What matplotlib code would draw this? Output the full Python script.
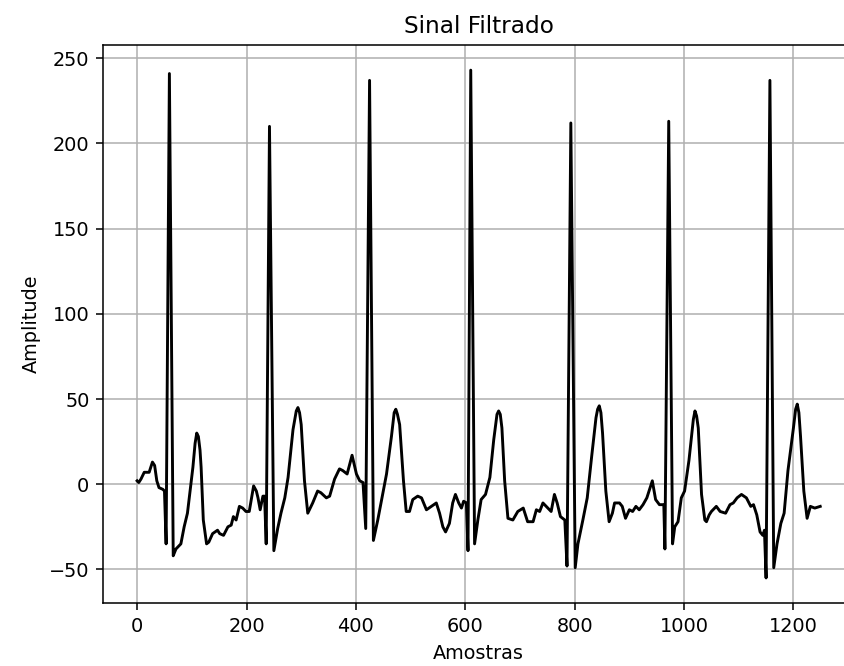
import numpy as np
import matplotlib.pyplot as plt

# sample index / amplitude
amostras = [0, 3, 7, 13, 22, 28, 32, 36, 40, 47, 50, 53, 59, 66, 71, 80, 86, 92, 102, 106, 109,
            112, 115, 117, 121, 127, 131, 138, 147, 151, 158, 166, 172, 176, 181, 187, 193, 199,
            205, 213, 218, 221, 225, 230, 233, 236, 242, 250, 257, 263, 270, 276, 285, 291, 294,
            297, 300, 306, 312, 321, 330, 336, 346, 352, 361, 370, 376, 384, 393, 401, 407, 413,
            418, 425, 432, 440, 449, 456, 465, 470, 473, 476, 480, 487, 492, 498, 504, 513, 520, 529,
            538, 547, 553, 559, 564, 571, 577, 582, 588, 593, 597, 602, 605, 610, 617, 623,
            629, 637, 645, 652, 658, 661, 664, 667, 672, 678, 687, 696, 706, 714, 724, 730, 736, 742,
            748, 757, 763, 768, 774, 782, 786, 793, 801, 806, 815, 823, 831, 839, 842, 845, 848, 851,
            857, 863, 869, 873, 882, 887, 893, 900, 906, 912, 918, 925, 932, 942, 948, 955,
            963, 965, 972, 979, 983, 989, 995, 1001, 1009, 1017, 1020, 1023, 1026, 1032, 1038, 1041,
            1046, 1050, 1059, 1066, 1076, 1084, 1090, 1097, 1105, 1114, 1122, 1127, 1133,
            1139, 1144, 1147, 1150, 1157, 1164, 1170, 1177, 1183, 1190, 1200, 1204, 1207, 1210, 1213,
            1219, 1225, 1231, 1239, 1249]
amplitude = [2, 1, 3, 7, 7, 13, 11, 2, -2, -3, -4, -35, 241, -42, -38, -35, -25, -17, 10, 24, 30,
             28, 20, 10, -21, -35, -34, -29, -27, -29, -30, -25, -24, -19, -21, -13, -14, -16,
             -16, -1, -4, -8, -15, -7, -7, -35, 210, -39, -26, -17, -8, 4, 32, 43, 45,
             42, 35, 2, -17, -11, -4, -5, -8, -7, 3, 9, 8, 6, 17, 6, 2, 1,
             -26, 237, -33, -21, -6, 6, 28, 42, 44, 41, 35, 2, -16, -16, -9, -7, -8, -15,
             -13, -11, -17, -25, -28, -23, -11, -6, -11, -14, -10, -11, -39, 243, -35, -21,
             -9, -6, 4, 26, 41, 43, 41, 33, 2, -20, -21, -16, -14, -22, -22, -15, -16, -11,
             -13, -16, -6, -11, -19, -21, -48, 212, -49, -35, -21, -8, 16, 39, 44, 46, 42, 30,
             -4, -22, -17, -11, -11, -13, -20, -15, -16, -13, -15, -12, -8, 2, -9, -12,
             -12, -38, 213, -35, -25, -22, -8, -4, 14, 38, 43, 40, 33, -6, -21, -22,
             -18, -16, -13, -16, -17, -12, -11, -8, -6, -8, -13, -12, -18,
             -28, -30, -27, -55, 237, -49, -35, -23, -17, 8, 33, 44, 47, 42, 28,
             -4, -20, -13, -14, -13]

fig = plt.figure(figsize=(844 / 139, 666 / 139), dpi=139)
ax = fig.add_axes([0.122, 0.0941, 0.8903, 0.8387])
ax.plot(np.array(amostras), np.array(amplitude), color='black', linewidth=1.5)
ax.set_title('Sinal Filtrado')
ax.set_xlabel('Amostras')
ax.set_ylabel('Amplitude')
ax.grid(True)

fig.savefig('out.png', dpi=139)
